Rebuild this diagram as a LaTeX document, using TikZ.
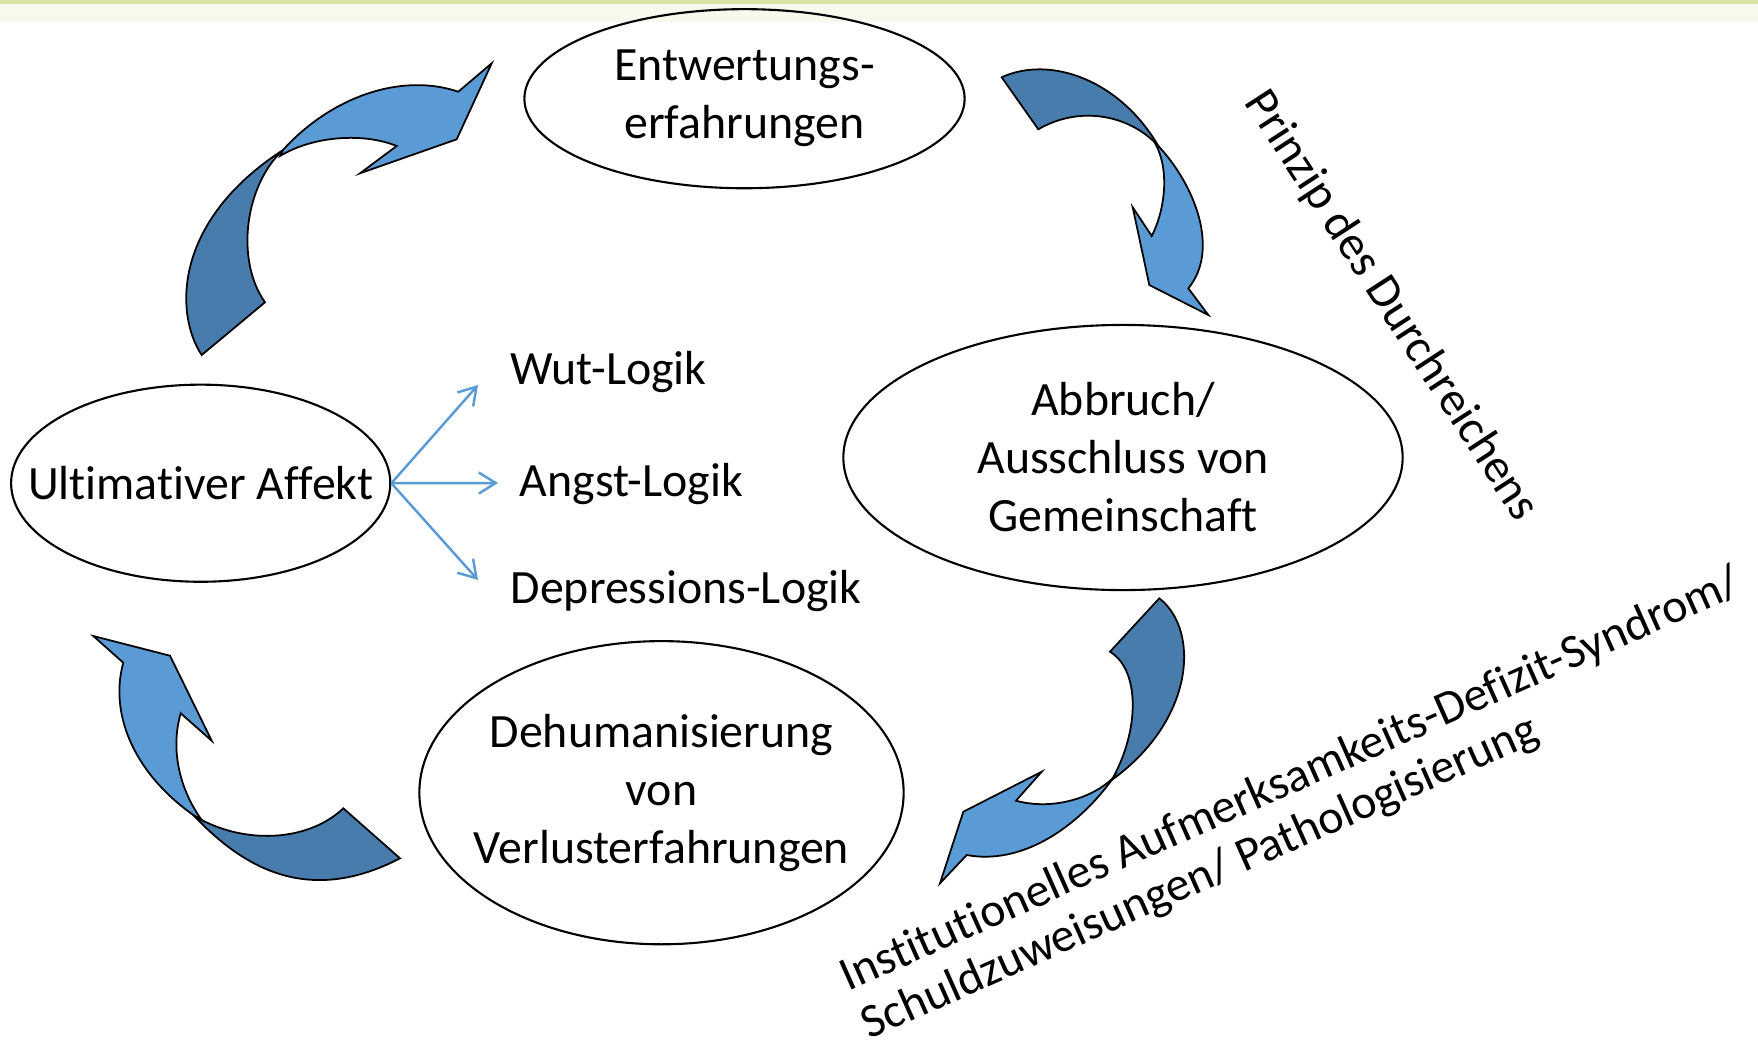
\documentclass[tikz,border=0pt]{standalone}
\usepackage{fontspec}
\setmainfont{Carlito}[Ligatures=NoCommon]
\usetikzlibrary{shapes.geometric,arrows.meta}

\definecolor{arrowlight}{RGB}{91,155,213}
\definecolor{arrowdark}{RGB}{72,124,172}
\definecolor{bandgreen}{RGB}{214,226,166}

\tikzstyle{stage} = [ellipse, draw=black, line width=0.6pt, inner sep=0pt]
\tikzstyle{stagetext} = [align=center, inner sep=0pt]
\tikzstyle{logic} = [anchor=west, inner sep=0pt]
\tikzstyle{thinarrow} = [draw=arrowlight, line width=0.7pt, -{Straight Barb[length=4.8pt,width=6pt]}]
\tikzstyle{bigfront} = [fill=arrowlight, draw=black, line width=0.5pt]
\tikzstyle{bigback} = [fill=arrowdark, draw=black, line width=0.5pt]
\tikzstyle{side} = [inner sep=0pt]

\begin{document}
\begin{tikzpicture}[x=0.01cm, y=-0.01cm, font=\fontsize{13.6}{16.5}\selectfont]
  \useasboundingbox (0,0) rectangle (1758,1048);
  \fill[bandgreen!20] (0,0) rectangle (1758,22);
  \fill[bandgreen] (0,0) rectangle (1758,4);

  % stages of the cycle
  \node (entwertung) [stage, minimum width=4.40cm, minimum height=1.79cm,
    label={[stagetext]center:Entwertungs-\\erfahrungen}] at (744.5,98.7) {};
  \node (abbruch) [stage, minimum width=5.59cm, minimum height=2.65cm,
    label={[stagetext]center:Abbruch/\\Ausschluss von\\Gemeinschaft}] at (1123,457.5) {};
  \node (dehum) [stage, minimum width=4.84cm, minimum height=3.03cm,
    label={[stagetext]center:Dehumanisierung\\von\\Verlusterfahrungen}] at (661.5,792.7) {};
  \node (affekt) [stage, minimum width=3.79cm, minimum height=1.97cm,
    label={[stagetext]center:Ultimativer Affekt}] at (200.7,483.2) {};

  % the three logics
  \node (wut) [logic] at (510,372) {Wut-Logik};
  \node (angst) [logic] at (519,484) {Angst-Logik};
  \node (depression) [logic] at (510,591) {Depressions-Logik};
  \coordinate (wutend) at (478,385);
  \coordinate (angstend) at (498,483);
  \coordinate (depressionend) at (478,580);
  \draw [thinarrow] (affekt.east) -- (wutend);
  \draw [thinarrow] (affekt.east) -- (angstend);
  \draw [thinarrow] (affekt.east) -- (depressionend);

  % curved arrows: affekt -> entwertung
  \path [bigback] (201.7,355) .. controls (175,315) and (172,222) .. (283,150)
    .. controls (245,185) and (235,260) .. (265,302.3) -- cycle;
  \path [bigfront] (283,150) .. controls (330,98) and (400,72) .. (458.3,91.7)
    -- (491.7,63.3) -- (456.7,139.3) -- (360,173.3) -- (396.7,146)
    .. controls (365,133) and (315,135) .. (280,156) -- cycle;

  % entwertung -> abbruch
  \path [bigback] (1001.7,77.3) .. controls (1050,55) and (1120,80) .. (1158.3,146)
    .. controls (1130,115) and (1080,105) .. (1038.3,129.3) -- cycle;
  \path [bigfront] (1158.3,146) .. controls (1195,185) and (1220,250) .. (1188.3,288.3)
    -- (1208.3,315) -- (1149.3,285) -- (1132.7,207.3) -- (1151.7,236)
    .. controls (1165,210) and (1170,170) .. (1155,143) -- cycle;

  % abbruch -> dehum
  \path [bigback] (1159.3,598.3) .. controls (1200,630) and (1195,720) .. (1111.7,780)
    .. controls (1140,730) and (1140,670) .. (1110,651.7) -- cycle;
  \path [bigfront] (1111.7,780) .. controls (1075,830) and (1020,865) .. (966.7,855)
    -- (940,883.3) -- (963.3,811.7) -- (1041.7,771.7) -- (1016,800.7)
    .. controls (1050,810) and (1090,800) .. (1113,778) -- cycle;

  % dehum -> affekt
  \path [bigback] (193.3,815) .. controls (245,870) and (310,905) .. (400,858.3)
    -- (343.3,808.3) .. controls (310,840) and (250,845) .. (201.7,820) -- cycle;
  \path [bigfront] (123.3,662.7) .. controls (110,710) and (130,770) .. (193.3,815)
    -- (201.7,820) .. controls (180,790) and (170,750) .. (180.7,713.3)
    -- (211.7,740.7) -- (170,655.7) -- (93.3,636) -- cycle;

  % side notes
  \node (durchreichen) [side, rotate=-57] at (1391,306) {Prinzip des Durchreichens};
  \node (institution) [side, rotate=24, anchor=base west] at (848,992)
    {Institutionelles Aufmerksamkeits-Defizit-Syndrom/};
  \node (schuld) [side, rotate=24, anchor=base west] at (869,1040)
    {Schuldzuweisungen/ Pathologisierung};
\end{tikzpicture}
\end{document}
